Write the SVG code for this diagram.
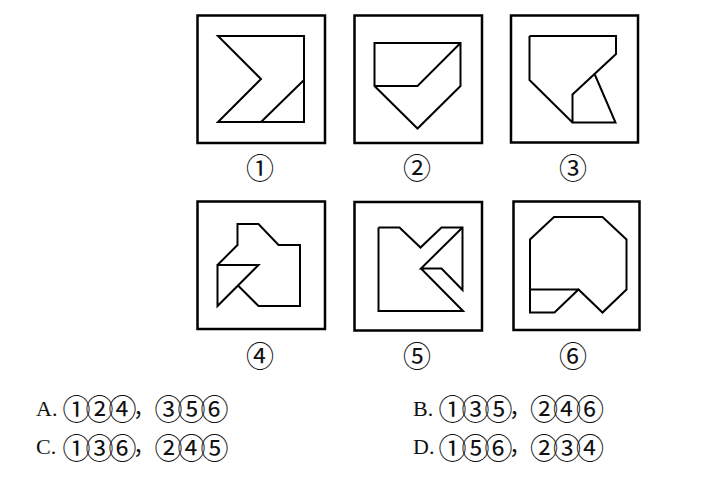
<svg xmlns="http://www.w3.org/2000/svg" width="704" height="477" viewBox="0 0 704 477">
<style>
.box{fill:none;stroke:#000;stroke-width:2.5}
.sh{fill:none;stroke:#000;stroke-width:2;stroke-linejoin:miter}
.lbl{font-family:"Noto Sans CJK SC","DejaVu Sans",sans-serif;font-size:28px;text-anchor:middle;fill:#111}
.opt{font-family:"Liberation Serif","Noto Sans CJK SC",serif;font-size:22px;fill:#111}
.cir{font-family:"Noto Sans CJK SC","DejaVu Sans",sans-serif;font-size:28px;letter-spacing:-5px}
</style>
<rect width="704" height="477" fill="#fff"/>
<g id="fig1">
<rect class="box" x="197.5" y="15.5" width="127.5" height="127.5"/>
<path class="sh" d="M218,36 H304 V122 H218 L261,79 Z M261,122 L304,80"/>
<text class="lbl" x="260" y="179">①</text>
</g>
<g id="fig2">
<rect class="box" x="354.5" y="15.5" width="127.5" height="127.5"/>
<path class="sh" d="M374.5,43 H460.5 V86 L417.5,128.5 L374.5,86 Z M374.5,86 H417.5 L460.5,43"/>
<text class="lbl" x="417" y="179">②</text>
</g>
<g id="fig3">
<rect class="box" x="511" y="15.5" width="127" height="127"/>
<path class="sh" d="M529.5,36 H616 V54 L572.5,94.5 V122.5 H615.5 L595,75 M529.5,36 V80 L572.5,122.5"/>
<text class="lbl" x="573" y="179">③</text>
</g>
<g id="fig4">
<rect class="box" x="197.5" y="201.5" width="127.5" height="127.5"/>
<path class="sh" d="M238,285.5 L258.5,306 H300 V245 H278.5 L258.5,224 H237.5 V245 L217.5,265 M217.5,265 H258.5 L217.5,306 Z"/>
<text class="lbl" x="260" y="367">④</text>
</g>
<g id="fig5">
<rect class="box" x="354.5" y="202" width="127.5" height="128.5"/>
<path class="sh" d="M378.5,227.5 H399.5 L420.5,247.5 L441.5,227.5 H462.5 V290 L441.5,268.5 H421 L462.5,227.5 M421,268.5 L463,311 H378.5 V227.5"/>
<text class="lbl" x="417" y="367">⑤</text>
</g>
<g id="fig6">
<rect class="box" x="513.5" y="201.5" width="126" height="128.5"/>
<path class="sh" d="M554,217 H602.5 L626.5,239.5 V289.5 L602.5,312.5 L578.5,289.5 L554.5,312.5 H530 V239.5 Z M530,289.5 H578.5"/>
<text class="lbl" x="573" y="367">⑥</text>
</g>
<g id="options">
<text class="opt" x="36" y="416">A.<tspan class="cir" x="62.5" y="420">①②④</tspan><tspan x="133" y="416">，</tspan><tspan class="cir" x="154.5" y="420">③⑤⑥</tspan></text>
<text class="opt" x="413" y="416">B.<tspan class="cir" x="438.5" y="420">①③⑤</tspan><tspan x="509" y="416">，</tspan><tspan class="cir" x="530" y="420">②④⑥</tspan></text>
<text class="opt" x="36" y="454">C.<tspan class="cir" x="62.5" y="459">①③⑥</tspan><tspan x="133" y="454">，</tspan><tspan class="cir" x="154.5" y="459">②④⑤</tspan></text>
<text class="opt" x="413" y="454">D.<tspan class="cir" x="438.5" y="459">①⑤⑥</tspan><tspan x="509" y="454">，</tspan><tspan class="cir" x="530" y="459">②③④</tspan></text>
</g>
</svg>
